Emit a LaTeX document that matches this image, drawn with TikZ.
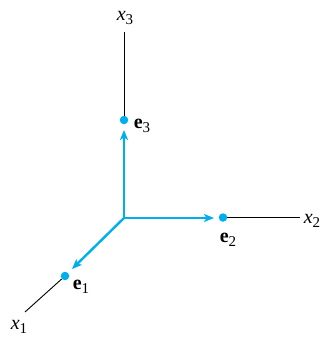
\documentclass[tikz,border=0pt]{standalone}
\usepackage{fontspec}
\setmainfont{Liberation Serif}
\usetikzlibrary{arrows.meta}
\definecolor{vcyan}{RGB}{0,174,239}
\newcommand{\ax}[1]{\textit{x}\raisebox{-0.45ex}{\fontsize{15}{17}\selectfont #1}}
\newcommand{\bv}[1]{\textbf{e}\raisebox{-0.45ex}{\fontsize{15}{17}\selectfont #1}}
\begin{document}
\begin{tikzpicture}[x=1pt,y=-1pt,
  axis/.style={black,line width=0.9pt},
  vec/.style={vcyan,line width=2.4pt,-{Stealth[length=10pt,width=8pt,inset=2.5pt]}},
  dotpt/.style={circle,fill=vcyan,inner sep=0pt,minimum size=8.5pt},
  lab/.style={inner sep=0pt,font=\fontsize{20}{22}\selectfont}]
\useasboundingbox (0,0) rectangle (323,338);
\coordinate (O) at (124,218);
\node[dotpt] (e3) at (124,120) {};
\node[dotpt] (e2) at (223,217.5) {};
\node[dotpt] (e1) at (65,276) {};
\coordinate (t3) at (124,32);
\coordinate (t2) at (300,217.5);
\coordinate (t1) at (25,312);
\draw[axis] (e3) -- (t3);
\draw[axis] (e2) -- (t2);
\draw[axis] (e1) -- (t1);
\draw[vec] (O) -- (124,130);
\draw[vec] (O) -- (214,218);
\draw[vec] (O) -- (72,269);
\node[lab] (x3) at (125,18) {\ax{3}};
\node[lab] (x2) at (312,221) {\ax{2}};
\node[lab] (x1) at (19,327) {\ax{1}};
\node[lab] (le3) at (142,126) {\bv{3}};
\node[lab] (le2) at (228,240) {\bv{2}};
\node[lab] (le1) at (81,287) {\bv{1}};
\end{tikzpicture}
\end{document}
